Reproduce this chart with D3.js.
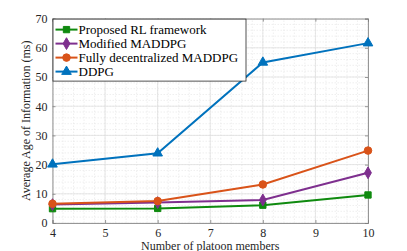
<!DOCTYPE html>
<html><head><meta charset="utf-8">
<script src="https://cdn.jsdelivr.net/npm/d3@7"></script>
<style>body{margin:0;background:#fff}svg{display:block}</style>
</head><body><div id="c"></div>
<script>
const members = [4, 6, 8, 10];
const proposed = [4.9, 5.0, 6.1, 9.6];
const modified = [6.3, 7.0, 7.9, 17.2];
const fullyDec = [6.6, 7.5, 13.2, 24.8];
const ddpg = [20.1, 23.9, 55.0, 61.6];
const seriesNames = ["Proposed RL framework", "Modified MADDPG", "Fully decentralized MADDPG", "DDPG"];
const xTicks = [4, 5, 6, 7, 8, 9, 10];
const yTicks = [0, 10, 20, 30, 40, 50, 60, 70];

const FONT = "'Liberation Serif', 'Times New Roman', 'DejaVu Serif', serif";
const W = 407, H = 251;
const m = {l: 52.5, r: 39, t: 18.6, b: 28};
const svg = d3.select("#c").append("svg").attr("width", W).attr("height", H)
  .attr("font-family", FONT);
const x = d3.scaleLinear().domain([4, 10]).range([m.l, W - m.r]);
const y = d3.scaleLinear().domain([0, 70]).range([H - m.b, m.t]);

const g = svg.append("g");
// minor grid
const xMinor = d3.range(4, 10.001, 0.2);
const yMinor = d3.range(0, 70.001, 2);
g.selectAll(".xm").data(xMinor).join("line")
  .attr("x1", d => x(d)).attr("x2", d => x(d)).attr("y1", y(0)).attr("y2", y(70))
  .attr("stroke", "#e4e4e4").attr("stroke-width", 0.6).attr("stroke-dasharray", "1.5,1.5");
g.selectAll(".ym").data(yMinor).join("line")
  .attr("y1", d => y(d)).attr("y2", d => y(d)).attr("x1", x(4)).attr("x2", x(10))
  .attr("stroke", "#e4e4e4").attr("stroke-width", 0.6).attr("stroke-dasharray", "1.5,1.5");
// major grid
g.selectAll(".xg").data(xTicks).join("line")
  .attr("x1", d => x(d)).attr("x2", d => x(d)).attr("y1", y(0)).attr("y2", y(70))
  .attr("stroke", "#dcdcdc").attr("stroke-width", 0.7);
g.selectAll(".yg").data(yTicks).join("line")
  .attr("y1", d => y(d)).attr("y2", d => y(d)).attr("x1", x(4)).attr("x2", x(10))
  .attr("stroke", "#dcdcdc").attr("stroke-width", 0.7);

// axes
const axCol = "#262626";
const xa = svg.append("g").attr("transform", `translate(0,${y(0)})`)
  .call(d3.axisBottom(x).tickValues(xTicks).tickSize(-3).tickPadding(5).tickFormat(d3.format("d")));
const xt = svg.append("g").attr("transform", `translate(0,${y(70)})`)
  .call(d3.axisTop(x).tickValues(xTicks).tickSize(-3).tickFormat(""));
const ya = svg.append("g").attr("transform", `translate(${x(4)},0)`)
  .call(d3.axisLeft(y).tickValues(yTicks).tickSize(-3).tickPadding(5).tickFormat(d3.format("d")));
const yr = svg.append("g").attr("transform", `translate(${x(10)},0)`)
  .call(d3.axisRight(y).tickValues(yTicks).tickSize(-3).tickFormat(""));
[xa, xt, ya, yr].forEach(a => {
  a.attr("font-family", FONT).attr("font-size", 12);
  a.select(".domain").attr("stroke", "#7f7f7f").attr("stroke-width", 0.8);
  a.selectAll(".tick line").attr("stroke", "#7f7f7f").attr("stroke-width", 0.8);
  a.selectAll("text").attr("fill", axCol);
});

const series = [
  {name: seriesNames[0], vals: proposed, color: "#0f8a0f", marker: "square"},
  {name: seriesNames[1], vals: modified, color: "#7E2F8E", marker: "diamond"},
  {name: seriesNames[2], vals: fullyDec, color: "#D95319", marker: "circle"},
  {name: seriesNames[3], vals: ddpg, color: "#0072BD", marker: "triangle"}
];
const sym = {square: d3.symbolSquare, diamond: d3.symbolDiamond, circle: d3.symbolCircle, triangle: d3.symbolTriangle};
const size = {square: 40, diamond: 40, circle: 45, triangle: 40};
const line = d3.line().x((d, i) => x(members[i])).y(d => y(d));

series.forEach(s => {
  svg.append("path").datum(s.vals).attr("d", line).attr("fill", "none")
    .attr("stroke", s.color).attr("stroke-width", 2);
  svg.selectAll(null).data(s.vals).join("path")
    .attr("transform", (d, i) => `translate(${x(members[i])},${y(d)})`)
    .attr("d", d3.symbol().type(sym[s.marker]).size(size[s.marker]))
    .attr("fill", s.color).attr("stroke", s.color);
});

// legend
const lg = svg.append("g");
lg.append("rect").attr("x", x(4) + 0.5).attr("y", y(70) + 0.5).attr("width", 193).attr("height", 62)
  .attr("fill", "#fff").attr("stroke", "#262626").attr("stroke-width", 0.8);
series.forEach((s, i) => {
  const yy = y(70) + 11 + i * 14;
  lg.append("line").attr("x1", x(4) + 3).attr("x2", x(4) + 25).attr("y1", yy).attr("y2", yy)
    .attr("stroke", s.color).attr("stroke-width", 2);
  lg.append("path").attr("transform", `translate(${x(4) + 14},${yy})`)
    .attr("d", d3.symbol().type(sym[s.marker]).size(size[s.marker]))
    .attr("fill", s.color).attr("stroke", s.color);
  lg.append("text").attr("x", x(4) + 26).attr("y", yy + 4.5).attr("font-size", 13)
    .attr("fill", "#000").text(s.name);
});

// labels
svg.append("text").attr("x", (x(4) + x(10)) / 2).attr("y", 249.5).attr("text-anchor", "middle")
  .attr("font-size", 12).attr("fill", axCol).text("Number of platoon members");
svg.append("text").attr("transform", `translate(30,${(y(0) + y(70)) / 2}) rotate(-90)`)
  .attr("text-anchor", "middle").attr("font-size", 12).attr("fill", axCol)
  .text("Average Age of Information (ms)");
</script></body></html>
